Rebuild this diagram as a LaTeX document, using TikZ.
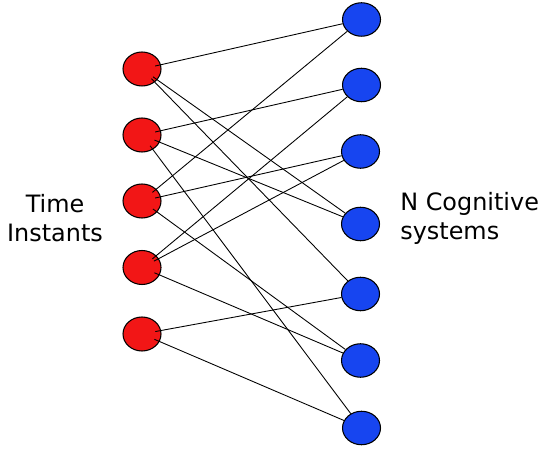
\documentclass[tikz,border=0pt]{standalone}
\usepackage{fontspec}
\newfontfamily\labelfont{DejaVu Sans}
\usepackage{tikz}
\usetikzlibrary{shapes}
\definecolor{instantred}{HTML}{F21616}
\definecolor{systemblue}{HTML}{1745F0}

\tikzset{
	instant/.style={ellipse,draw=black,line width=0.6pt,fill=instantred,minimum width=0.76cm,minimum height=0.68cm,inner sep=0pt},
	system/.style={ellipse,draw=black,line width=0.6pt,fill=systemblue,minimum width=0.76cm,minimum height=0.67cm,inner sep=0pt},
	link/.style={line width=0.5pt,shorten <=0.27cm},
	caption/.style={font=\labelfont\fontsize{13.6}{16.4}\selectfont,inner sep=0pt}
}

\begin{document}
\begin{tikzpicture}
		\useasboundingbox (0,0) rectangle (10.8,9.04);
		% time instants
		\node[instant] (time1) at (2.84,7.66) {};
		\node[instant] (time2) at (2.84,6.34) {};
		\node[instant] (time3) at (2.84,5.02) {};
		\node[instant] (time4) at (2.84,3.69) {};
		\node[instant] (time5) at (2.84,2.36) {};
		% cognitive systems
		\node[system] (sys1) at (7.23,8.65) {};
		\node[system] (sys2) at (7.23,7.34) {};
		\node[system] (sys3) at (7.21,6.01) {};
		\node[system] (sys4) at (7.21,4.56) {};
		\node[system] (sys5) at (7.21,3.16) {};
		\node[system] (sys6) at (7.21,1.83) {};
		\node[system] (sys7) at (7.23,0.48) {};
		% links
		\foreach \t/\s in {1/1,1/4,1/5,2/2,2/4,2/7,3/1,3/3,3/6,4/2,4/3,4/6,5/5,5/7}
			\draw[link] (time\t.center) -- (sys\s);
		\node[caption,align=center] (timelabel) at (1.1,4.67) {Time\\Instants};
		\node[caption,align=left,anchor=west] (syslabel) at (8.0,4.67) {N Cognitive\\systems};
	\end{tikzpicture}
\end{document}
